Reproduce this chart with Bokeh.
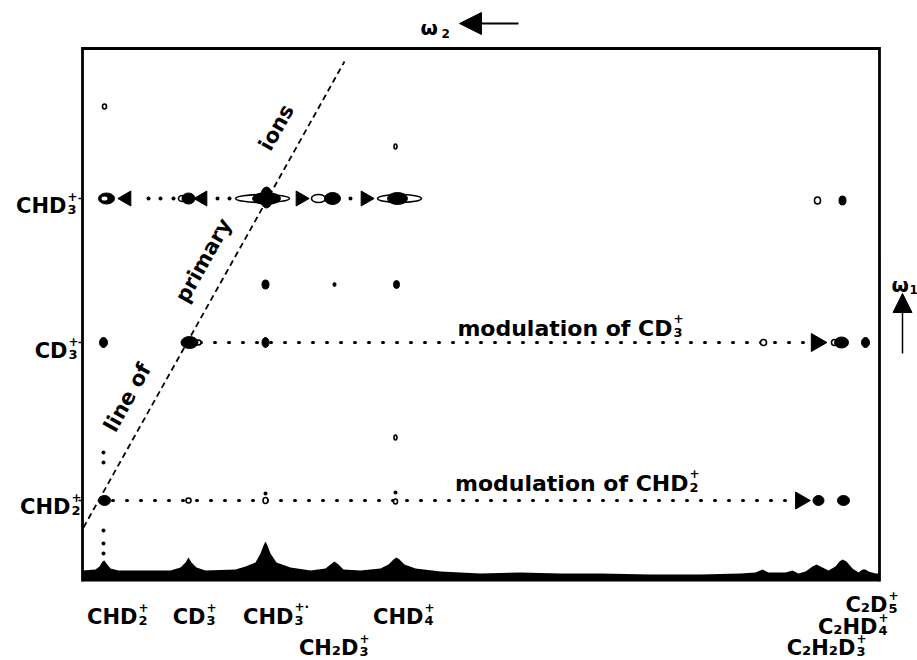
import math
from bokeh.plotting import figure
from bokeh.models import Range1d, Arrow, NormalHead
from bokeh.core.properties import value
from bokeh.embed import file_html
from bokeh.resources import INLINE

# ---------------- data (omega2 / omega1 channels) ----------------
row_names = ["CHD3+", "CD3+", "CHD2+"]
row_omega1 = [383, 239, 81]
box_w2 = 797   # omega2 extent of the map
box_w1 = 533   # omega1 extent of the map

# filled 2D peaks
blob_x = [24, 106, 184, 184, 250, 315, 760, 183, 252, 314, 21, 107, 183, 759, 783, 22, 736, 761]
blob_y = [383, 383, 383, 384, 383, 383, 381, 297, 297, 297, 239, 239, 239, 239, 239, 81, 81, 81]
blob_w = [16, 13, 28, 12, 16, 20, 7, 7, 3, 6, 8, 17, 7, 14, 8, 12, 11, 12]
blob_h = [11, 11, 12, 21, 12, 12, 9, 9, 4, 8, 10, 12, 10, 11, 10, 10, 10, 10]

# open (negative) contours
open_x = [100, 180, 236, 317, 735, 116, 681, 752, 106, 183, 313, 22, 313, 313]
open_y = [383, 383, 383, 383, 381, 239, 239, 239, 81, 81, 80, 475, 435, 144]
open_w = [8, 54, 14, 44, 6, 5, 6, 6, 5, 5, 4, 4, 3, 3]
open_h = [6, 8, 8, 8, 7, 5, 6, 6, 5, 6, 5, 5, 5, 5]

hole_x = [22]
hole_y = [383]

# small single points
dot_x = [66, 78, 91, 135, 147, 268, 183, 313, 21, 21, 21, 21, 21]
dot_y = [383, 383, 383, 383, 383, 383, 88, 89, 129, 119, 51, 38, 28]

# triangular peaks
tri_left_x = [44, 120]
tri_left_y = [383, 383]
tri_right_x = [218, 283, 734, 718]
tri_right_y = [383, 383, 239, 81]
tri_right_size = [15, 15, 18, 17]

# modulation rows (dotted)
mod_x0 = [118, 30]
mod_x1 = [724, 710]
mod_y = [239, 81]

# line of primary ions
prim_x = [1, 262]
prim_y = [54, 520]

# 1D spectrum along omega2 (upper envelope)
spec_x = [0, 13, 17, 20, 22, 24, 28, 36, 88, 98, 103, 106, 109, 114, 123, 153, 163, 173, 178, 181,
          183, 185, 188, 194, 208, 228, 243, 248, 252, 256, 261, 278, 298, 306, 311, 314, 317, 322,
          333, 358, 398, 438, 478, 518, 568, 618, 658, 673, 680, 686, 703, 710, 716, 723, 730, 734,
          738, 746, 753, 757, 760, 764, 770, 776, 780, 783, 786, 793, 797]
spec_y = [11, 12, 15, 20, 21, 18, 13, 11, 11, 14, 19, 24, 19, 14, 11, 12, 15, 19, 28, 36,
          40, 36, 28, 19, 14, 11, 13, 17, 20, 17, 12, 11, 13, 17, 22, 24, 22, 17,
          13, 10, 8, 9, 8, 8, 7, 7, 8, 9, 12, 9, 9, 11, 8, 10, 15, 17,
          15, 11, 15, 20, 22, 20, 13, 9, 12, 12, 10, 8, 8]

# ion labels: (anchor x, baseline y, base, subscript, superscript)
left_labels = [(-16, 376, "CHD", "3", "+"), (-15, 231, "CD", "3", "+"), (-12, 75, "CHD", "2", "+")]
bottom_labels = [(55, -35, "CHD", "2", "+"), (123, -35, "CD", "3", "+"), (211, -35, "CHD", "3", "+·"),
                 (341, -35, "CHD", "4", "+"), (276, -66, "CH₂D", "3", "+"),
                 (805, -23, "C₂D", "5", "+"), (795, -45, "C₂HD", "4", "+"), (773, -66, "C₂H₂D", "3", "+")]
mod_labels = [(590, 253, "modulation of CD", "3", "+"), (606, 98, "modulation of CHD", "2", "+")]
line_texts = [("ions", 194, 454), ("primary", 121, 321), ("line of", 45, 184)]

FONT = value("DejaVu Sans")

p = figure(width=917, height=660, output_backend="svg", toolbar_location=None,
           x_axis_location=None, y_axis_location=None,
           x_range=Range1d(-82, 835), y_range=Range1d(-79, 581),
           min_border=0, background_fill_color="white", border_fill_color="white")
p.grid.visible = False
p.outline_line_color = None

# frame of the 2D map
p.line(x=[0, 0, box_w2, box_w2], y=[0, box_w1, box_w1, 0], line_color="black", line_width=2.8,
       line_join="miter")
# small ticks at the ion rows
p.segment(x0=[-4] * 3, y0=row_omega1, x1=[0] * 3, y1=row_omega1, line_color="black", line_width=1.5)

# spectrum
p.varea(x=spec_x, y1=[0] * len(spec_x), y2=spec_y, fill_color="black")

# dotted modulation rows
p.segment(x0=mod_x0, y0=mod_y, x1=mod_x1, y1=mod_y, line_color="black", line_width=3,
          line_dash="1 13", line_cap="round")

# primary ion line
p.line(prim_x, prim_y, line_color="black", line_width=1.8, line_dash="6 4")

# contours
p.ellipse(x=open_x, y=open_y, width=open_w, height=open_h, fill_color="white",
          line_color="black", line_width=1.6)
p.ellipse(x=blob_x, y=blob_y, width=blob_w, height=blob_h, fill_color="black", line_color="black")
p.ellipse(x=hole_x, y=hole_y, width=6, height=4, fill_color="white", line_color=None)
p.scatter(x=dot_x, y=dot_y, size=4, marker="circle", fill_color="black", line_color=None)
p.scatter(x=tri_left_x, y=tri_left_y, size=15, marker="triangle", angle=math.pi / 2,
          fill_color="black", line_color="black")
p.scatter(x=tri_right_x, y=tri_right_y, size=tri_right_size, marker="triangle", angle=-math.pi / 2,
          fill_color="black", line_color="black")


def txt(x, y, t, size, align="left", baseline="alphabetic", angle=0.0):
    p.text(x=[x], y=[y], text=[t], text_font=FONT, text_font_style="bold", text_color="black",
           text_font_size=f"{size}px", text_align=align, text_baseline=baseline, angle=angle)


def ion(xa, yb, base, sub, sup, size=21, ssize=13):
    txt(xa, yb, base, size, align="right")
    txt(xa + 1, yb - 4, sub, ssize)
    txt(xa + 1, yb + size * 0.45, sup, ssize - 1)


for (xa, yb, b, s, u) in left_labels + bottom_labels:
    ion(xa, yb, b, s, u)
for (xa, yb, b, s, u) in mod_labels:
    ion(xa, yb, b, s, u, size=22)

ang = math.atan2(prim_y[1] - prim_y[0], prim_x[1] - prim_x[0])
for (t, x, y) in line_texts:
    txt(x, y, t, 21, align="center", baseline="middle", angle=ang)

# omega axes
txt(338, 554, "ω", 20)
txt(359, 548, "2", 12)
p.add_layout(Arrow(end=NormalHead(size=22, fill_color="black", line_color="black"),
                   x_start=436, y_start=558, x_end=377, y_end=558, line_width=2))
txt(809, 297, "ω", 20)
txt(827, 292, "1", 12)
p.add_layout(Arrow(end=NormalHead(size=19, fill_color="black", line_color="black"),
                   x_start=820, y_start=228, x_end=820, y_end=288, line_width=1.5))

open("out.html", "w").write(file_html(p, INLINE))
